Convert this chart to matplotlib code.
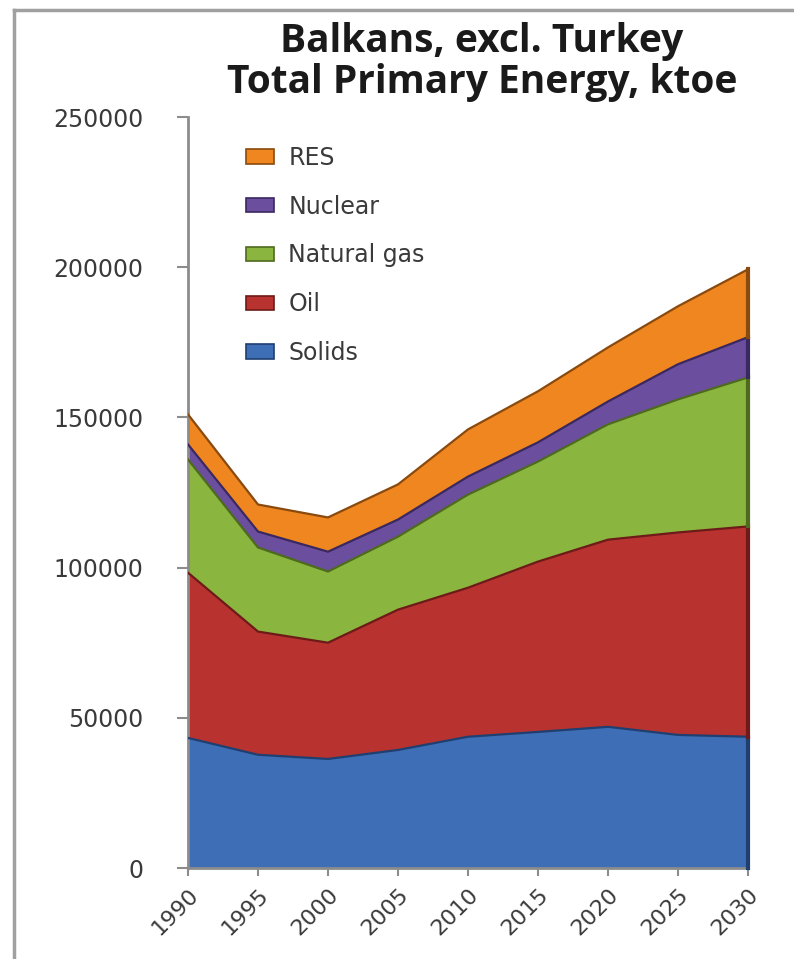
import matplotlib
matplotlib.use("Agg")
import matplotlib.pyplot as plt
from matplotlib.lines import Line2D
from matplotlib.patches import Patch
import numpy as np

years = [1990, 1995, 2000, 2005, 2010, 2015, 2020, 2025, 2030]
solids = [43300, 37700, 36300, 39300, 43700, 45300, 47000, 44300, 43700]
oil = [55000, 41000, 38700, 46700, 49600, 56700, 62300, 67400, 70000]
natural_gas = [37700, 28000, 23700, 24300, 31000, 33300, 38400, 44300, 49600]
nuclear = [5000, 5300, 6600, 5700, 6000, 6400, 7600, 11700, 13400]
res = [10000, 9000, 11400, 11700, 15700, 17000, 18000, 19300, 22600]

series_names = ["Solids", "Oil", "Natural gas", "Nuclear", "RES"]
series = [solids, oil, natural_gas, nuclear, res]
fill_colors = ["#3D6EB6", "#B83330", "#8AB53F", "#6B4E9E", "#F0861F"]
edge_colors = ["#1F3F70", "#6E1A18", "#4E6A1E", "#3A2860", "#8A4A0E"]
y_ticks = [0, 50000, 100000, 150000, 200000, 250000]

title = "Balkans, excl. Turkey\nTotal Primary Energy, ktoe"

W, H = 794, 959
fig = plt.figure(figsize=(W / 100, H / 100), dpi=100)
ax = fig.add_axes([188 / W, 1 - 868 / H, (748 - 188) / W, (868 - 117) / H])

x = np.array(years)
base = np.zeros(len(years))
for vals, fc, ec in zip(series, fill_colors, edge_colors):
    top = base + np.array(vals)
    ax.fill_between(x, base, top, facecolor=fc, edgecolor="none", zorder=2)
    ax.plot(x, top, color=ec, lw=1.6, zorder=3)
    ax.plot([x[-1], x[-1]], [base[-1], top[-1]], color=ec, lw=3, zorder=3,
            clip_on=False)
    base = top

ax.set_xlim(years[0], years[-1])
ax.set_ylim(0, 250000)
ax.set_yticks(y_ticks)
ax.set_yticklabels([str(v) for v in y_ticks])
ax.set_xticks(years)
ax.set_xticklabels([str(y) for y in years], rotation=45, ha="right",
                   va="top", rotation_mode="anchor")

for s in ["top", "right"]:
    ax.spines[s].set_visible(False)
for s in ["left", "bottom"]:
    ax.spines[s].set_color("#8C8C8C")
    ax.spines[s].set_linewidth(2)

ax.tick_params(axis="y", length=8, width=1.5, color="#8C8C8C",
               labelsize=17, labelcolor="#3A3A3A", pad=24)
ax.tick_params(axis="x", length=6, width=1.5, color="#8C8C8C",
               labelsize=16, labelcolor="#3A3A3A", pad=6)

handles = [Patch(facecolor=fc, edgecolor=ec, lw=1.2)
           for fc, ec in zip(fill_colors, edge_colors)]
leg = ax.legend(handles[::-1], series_names[::-1], loc="upper left",
                bbox_to_anchor=(0.065, 0.99), frameon=False,
                fontsize=17, labelspacing=1.05, handlelength=1.2,
                handleheight=0.55, handletextpad=0.6)
for t in leg.get_texts():
    t.set_color("#3A3A3A")

fig.text(482 / W, 1 - 62 / H, title, ha="center", va="center",
         fontsize=28, fontweight="bold", family="Open Sans",
         color="#1A1A1A", linespacing=1.05)

# outer chart frame
fig.add_artist(Line2D([14 / W, 14 / W], [0, 1 - 10 / H], color="#A0A0A0",
                      lw=2.5, transform=fig.transFigure))
fig.add_artist(Line2D([14 / W, 1], [1 - 10 / H, 1 - 10 / H], color="#A0A0A0",
                      lw=2.5, transform=fig.transFigure))

fig.savefig("out.png", dpi=100)
